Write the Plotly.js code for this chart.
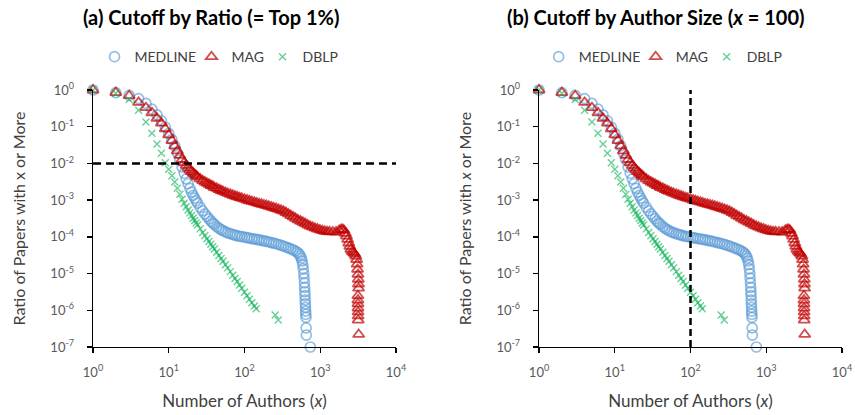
<!DOCTYPE html>
<html>
<head>
<meta charset="utf-8">
<script src="https://cdn.plot.ly/plotly-3.0.1.min.js"></script>
<style>
  html, body { margin: 0; padding: 0; background: #ffffff; }
  #chart { width: 855px; height: 415px; }
</style>
</head>
<body>
<div id="chart"></div>
<script>
// ---- data ----
const medlineX = [1,2,3,4,5,6,7,8,9,10,11,12,13,14,15,16,17,18,19,20,21,22,23,24,26,28,30,32,34,36,38,40,43,46,49,52,56,60,65,70,75,80,86,92,100,108,116,125,135,145,156,168,181,195,210,226,243,262,282,304,327,352,379,408,439,472,500,525,545,560,575,588,598,606,612,618,623,627,630,633,636,639,642,645,648,652,656,740];
const medlineY = [1,0.85,0.71,0.58,0.43,0.30,0.21,0.145,0.098,0.066,0.045,0.030,0.0195,0.0125,0.0080,0.0054,0.0038,0.0028,0.0021,0.00165,0.00135,0.00113,0.00096,0.00083,0.00064,0.00051,0.00042,0.00036,0.00031,0.00027,0.00024,0.00022,0.00019,0.000172,0.000158,0.000147,0.000137,0.000129,0.000122,0.000116,0.000111,0.000107,0.000104,0.000101,0.000098,0.000095,0.0000925,0.00009,0.0000875,0.000085,0.0000825,0.00008,0.0000775,0.000075,0.0000725,0.00007,0.0000675,0.000065,0.000062,0.000059,0.000056,0.000053,0.00005,0.000047,0.000044,0.000041,0.000038,0.0000345,0.0000305,0.0000265,0.000022,0.0000175,0.0000135,0.00001,0.0000075,0.0000056,0.0000042,0.0000032,0.0000025,0.0000019,0.0000015,0.0000012,0.00000095,0.00000078,0.00000064,0.00000033,0.00000021,0.0000001];

const magX = [1,2,3,4,5,6,7,8,9,10,11,12,13,14,15,16,17,18,19,20,21,22,23,24,26,28,30,32,34,36,38,40,43,46,49,52,56,60,65,70,75,80,86,92,100,108,116,125,135,145,156,168,181,195,210,226,243,262,282,304,327,352,379,408,439,472,508,547,589,634,683,735,792,853,918,989,1065,1147,1235,1330,1470,1620,1780,1880,1980,2060,2140,2220,2300,2380,2460,2540,2640,2750,2850,2950,3020,3070,3110,3150,3180,3200,3210,3140,3145,3150,3155,3160,3165,3170,3220];
const magY = [1,0.85,0.70,0.46,0.33,0.24,0.17,0.125,0.088,0.060,0.042,0.030,0.022,0.0165,0.0128,0.0104,0.0088,0.0076,0.0067,0.0060,0.0055,0.0050,0.0046,0.0043,0.0038,0.0034,0.0031,0.0029,0.0027,0.0025,0.0024,0.0022,0.0021,0.00195,0.00183,0.00173,0.00162,0.00153,0.00144,0.00136,0.00129,0.00123,0.00117,0.00112,0.00106,0.00101,0.00096,0.00092,0.00088,0.00084,0.0008,0.00077,0.00074,0.00071,0.00068,0.00065,0.00062,0.00059,0.00056,0.00053,0.0005,0.00046,0.00042,0.00038,0.00035,0.00032,0.00029,0.00027,0.00025,0.00023,0.00021,0.000195,0.000183,0.000172,0.000163,0.000155,0.000148,0.000142,0.000138,0.000137,0.000136,0.000135,0.00015,0.000158,0.00016,0.00015,0.000125,0.000105,0.000085,0.000068,0.000055,0.000046,0.00004,0.000037,0.000034,0.00003,0.000024,0.000018,0.000013,0.0000095,0.000007,0.0000052,0.000004,0.0000025,0.0000019,0.0000015,0.00000115,0.0000009,0.0000007,0.00000054,0.00000022];

const dblpX = [1,2,3,4,5,6,7,8,9,10,11,12,13,14,15,16,17,18,19,20,21,22,23,24,26,28,30,32,34,36,38,40,43,46,49,52,56,60,65,70,75,80,86,92,100,108,116,125,135,143,254,279];
const dblpY = [1,0.82,0.55,0.28,0.135,0.066,0.034,0.019,0.0105,0.0069,0.0046,0.0031,0.0021,0.00145,0.00105,0.00082,0.00066,0.00054,0.00045,0.00038,0.00032,0.00028,0.00024,0.00021,0.000165,0.000132,0.000107,0.000089,0.000075,0.000063,0.000054,0.000047,0.000038,0.000031,0.0000258,0.0000217,0.0000175,0.0000143,0.0000113,0.000009,0.0000073,0.0000061,0.0000049,0.000004,0.0000031,0.0000025,0.000002,0.0000016,0.0000013,0.0000011,0.00000074,0.00000054];

const seriesNames = ['MEDLINE', 'MAG', 'DBLP'];
const cutoffRatio = 0.01;   // panel (a): top 1%
const cutoffSize = 100;     // panel (b): x = 100
const xTickVals = [1, 10, 100, 1000, 10000];
const xTickText = ['10<sup>0</sup>','10<sup>1</sup>','10<sup>2</sup>','10<sup>3</sup>','10<sup>4</sup>'];
const yTickVals = [1, 0.1, 0.01, 0.001, 0.0001, 0.00001, 0.000001, 0.0000001];
const yTickText = ['10<sup>0</sup>','10<sup>-1</sup>','10<sup>-2</sup>','10<sup>-3</sup>','10<sup>-4</sup>','10<sup>-5</sup>','10<sup>-6</sup>','10<sup>-7</sup>'];
const titleA = '<b>(a) Cutoff by Ratio (= Top 1%)</b>';
const titleB = '<b>(b) Cutoff by Author Size (<i>x</i> = 100)</b>';

// ---- styling ----
const FONT = 'Lato, "Open Sans", sans-serif';
const styles = [
  {symbol: 'circle-open', size: 10, color: '#5B9BD5', lw: 1.7, op: 0.65},
  {symbol: 'triangle-up-open', size: 10, color: '#C00000', lw: 1.8, op: 0.7},
  {symbol: 'x-thin-open', size: 7, color: '#00B050', lw: 1.4, op: 0.6}
];
const legendWidths = [52, 26, 40];
const seriesX = [medlineX, magX, dblpX];
const seriesY = [medlineY, magY, dblpY];

const traces = [];
[['x','y','legend'], ['x2','y2','legend2']].forEach(([xa, ya, lg]) => {
  seriesNames.forEach((name, i) => {
    const s = styles[i];
    traces.push({
      type: 'scatter', mode: 'markers', name: name,
      x: seriesX[i], y: seriesY[i], xaxis: xa, yaxis: ya, legend: lg,
      legendwidth: legendWidths[i],
      cliponaxis: false, hoverinfo: 'skip',
      marker: {symbol: s.symbol, size: s.size, color: s.color, opacity: s.op,
               line: {color: s.color, width: s.lw}}
    });
  });
});
// cutoff lines
traces.push({type: 'scatter', mode: 'lines', x: [xTickVals[0], xTickVals[4]], y: [cutoffRatio, cutoffRatio],
  xaxis: 'x', yaxis: 'y', showlegend: false, hoverinfo: 'skip', cliponaxis: false,
  line: {color: '#000000', width: 2.5, dash: '8px,5px'}});
traces.push({type: 'scatter', mode: 'lines', x: [cutoffSize, cutoffSize], y: [yTickVals[7], yTickVals[0]],
  xaxis: 'x2', yaxis: 'y2', showlegend: false, hoverinfo: 'skip', cliponaxis: false,
  line: {color: '#000000', width: 2.5, dash: '7px,4px'}});

function xAxis(domain, anchor) {
  return {
    type: 'log', range: [0, 4], domain: domain, anchor: anchor,
    tickvals: xTickVals, ticktext: xTickText,
    showgrid: false, zeroline: false, showline: true, linecolor: '#000000', linewidth: 1.3,
    ticks: 'outside', ticklen: 5, tickwidth: 1.3, tickcolor: '#000000',
    ticklabelstandoff: 8,
    tickfont: {family: FONT, size: 13, color: '#595959'},
    title: {text: 'Number of Authors (<i>x</i>)', standoff: 16, font: {family: FONT, size: 17, color: '#404040'}}
  };
}
function yAxis(anchor, titleText) {
  return {
    type: 'log', range: [-7, 0], domain: [0, 1], anchor: anchor,
    tickvals: yTickVals, ticktext: yTickText,
    showgrid: false, zeroline: false, showline: true, linecolor: '#000000', linewidth: 1.3,
    ticks: 'outside', ticklen: 5, tickwidth: 1.3, tickcolor: '#000000',
    ticklabelstandoff: 10,
    tickfont: {family: FONT, size: 13, color: '#595959'},
    title: {text: titleText, standoff: 20, font: {family: FONT, size: 16, color: '#404040'}}
  };
}

const legendBase = {orientation: 'h', yanchor: 'middle', xanchor: 'left', y: 1.128,
  bgcolor: 'rgba(0,0,0,0)', borderwidth: 0, font: {family: FONT, size: 14, color: '#404040'},
  itemclick: false, itemdoubleclick: false};

const layout = {
  width: 855, height: 415,
  margin: {l: 93, r: 13, t: 90, b: 68},
  paper_bgcolor: '#ffffff', plot_bgcolor: '#ffffff',
  font: {family: FONT},
  showlegend: true,
  xaxis: xAxis([0, 0.4045], 'y'),
  yaxis: yAxis('x', 'Ratio of Papers with x or More'),
  xaxis2: xAxis([0.5955, 1], 'y2'),
  yaxis2: yAxis('x2', 'Ratio of Papers with <i>x</i> or More'),
  legend: Object.assign({}, legendBase, {x: 0.002}),
  legend2: Object.assign({}, legendBase, {x: 0.595}),
  annotations: [
    {text: titleA, xref: 'paper', yref: 'paper', x: 0.1575, y: 1.284, xanchor: 'center', yanchor: 'middle',
     showarrow: false, font: {family: FONT, size: 20, color: '#000000'}},
    {text: titleB, xref: 'paper', yref: 'paper', x: 0.7517, y: 1.284, xanchor: 'center', yanchor: 'middle',
     showarrow: false, font: {family: FONT, size: 20, color: '#000000'}}
  ]
};

Plotly.newPlot('chart', traces, layout, {displayModeBar: false, staticPlot: true});
</script>
</body>
</html>
